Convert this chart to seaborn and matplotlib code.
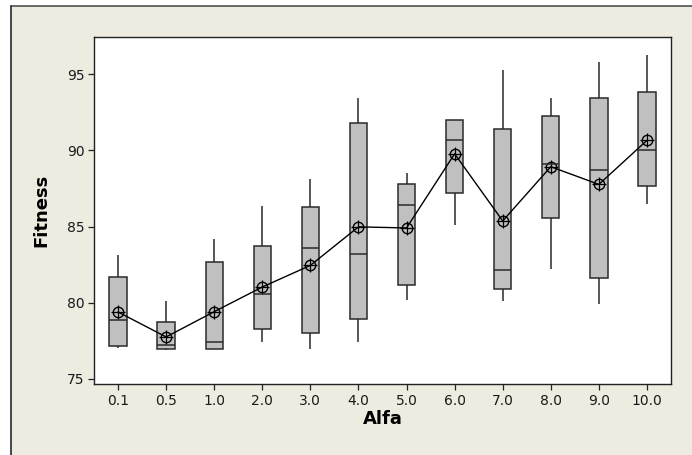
import numpy as np
import pandas as pd
import matplotlib
matplotlib.use("Agg")
import matplotlib.pyplot as plt
from matplotlib.patches import Rectangle
from matplotlib.lines import Line2D
import seaborn as sns

# values (Minitab style boxplot, means joined by a line)
alfa = ["0.1", "0.5", "1.0", "2.0", "3.0", "4.0", "5.0", "6.0", "7.0", "8.0", "9.0", "10.0"]
whisker_low = [77.0, 76.92, 76.94, 77.4, 76.94, 77.4, 80.2, 85.11, 80.11, 82.21, 79.89, 86.46]
q1 = [77.16, 76.95, 76.96, 78.25, 78.03, 78.95, 81.18, 87.21, 80.87, 85.57, 81.59, 87.66]
median = [78.89, 77.2, 77.4, 80.57, 83.58, 83.19, 86.42, 90.66, 82.12, 89.08, 88.73, 90.02]
q3 = [81.66, 78.71, 82.64, 83.73, 86.27, 91.81, 87.82, 91.99, 91.44, 92.27, 93.45, 93.84]
whisker_high = [83.1, 80.11, 84.19, 86.35, 88.12, 93.43, 88.52, 92.0, 95.28, 93.43, 95.83, 96.29]
means = [79.39, 77.75, 79.41, 81.03, 82.45, 84.98, 84.91, 89.78, 85.37, 88.93, 87.77, 90.66]

# five points per group give exactly these quartiles with linear interpolation
rows = []
for i, a in enumerate(alfa):
    for v in (whisker_low[i], q1[i], median[i], q3[i], whisker_high[i]):
        rows.append({"Alfa": a, "Fitness": v})
df = pd.DataFrame(rows)
df_mean = pd.DataFrame({"Alfa": alfa, "Fitness": means})

sns.set_theme(style="white")
plt.rcParams["font.family"] = ["DejaVu Sans"]

fig = plt.figure(figsize=(6.92, 4.55), dpi=100, facecolor="white")

# beige panel, frame only on top and left (screenshot is cropped)
x0 = 11.5 / 692
y1 = 1 - 5.5 / 455
fig.add_artist(Rectangle((x0, 0), 1 - x0, y1, transform=fig.transFigure,
                         facecolor="#EEEBE1", edgecolor="none", zorder=-5))
fig.add_artist(Line2D([x0, 1], [y1, y1], transform=fig.transFigure,
                      color="#505050", linewidth=1.2, zorder=-4))
fig.add_artist(Line2D([x0, x0], [0, y1], transform=fig.transFigure,
                      color="#2a2a2a", linewidth=1.2, zorder=-4))

ax = fig.add_axes([94 / 692, 1 - 384 / 455, (671 - 94) / 692, (384 - 36.7) / 455])
ax.set_facecolor("white")

sns.boxplot(data=df, x="Alfa", y="Fitness", order=alfa, whis=(0, 100),
            width=0.36, color="#C0C0C0", linecolor="#2a2a2a", linewidth=1.1,
            showcaps=False, showfliers=False, saturation=1, ax=ax)

sns.pointplot(data=df_mean, x="Alfa", y="Fitness", order=alfa, errorbar=None,
              color="black", markers="o", markersize=7.5, linewidth=1.0,
              markerfacecolor="none", markeredgewidth=1.0, ax=ax)
sns.pointplot(data=df_mean, x="Alfa", y="Fitness", order=alfa, errorbar=None,
              color="black", markers="+", markersize=9.5, linestyles="none",
              markeredgewidth=0.9, ax=ax)

ax.set_ylim(74.66, 97.47)
ax.set_xlim(-0.5, 11.5)
ax.set_yticks([75, 80, 85, 90, 95])
ax.set_yticklabels(["75", "80", "85", "90", "95"])

for s in ax.spines.values():
    s.set_visible(True)
    s.set_color("#222222")
    s.set_linewidth(1.0)

ax.tick_params(axis="both", which="both", direction="out", length=4, width=0.9,
               color="#222222", labelsize=10, labelcolor="#1a1a1a",
               left=True, bottom=True, pad=3)

ax.set_xlabel("Alfa", fontsize=13, fontweight="bold", color="black", labelpad=2)
ax.set_ylabel("Fitness", fontsize=13, fontweight="bold", color="black", labelpad=12)

fig.savefig("out.png", dpi=100, facecolor=fig.get_facecolor())
